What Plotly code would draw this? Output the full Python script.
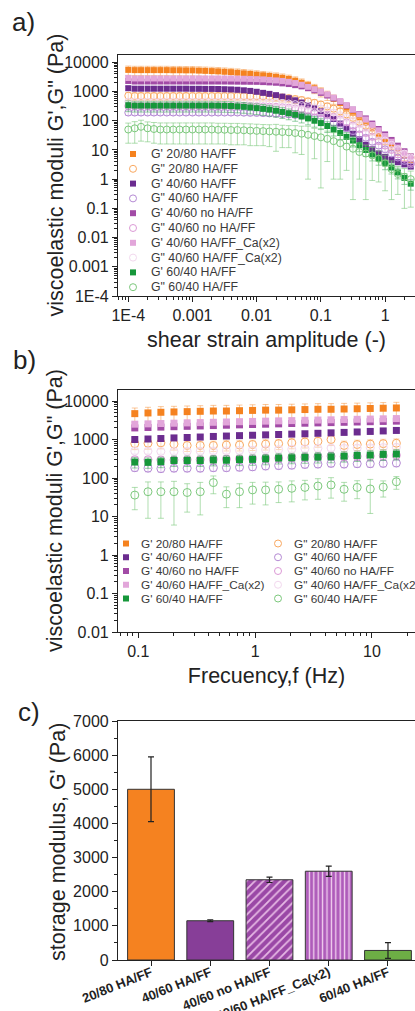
import plotly.graph_objects as go

W, H = 415, 1011
FONT = "Liberation Sans, Arial, sans-serif"
INK = "#222222"

# ---------------- panel a: amplitude sweep ----------------
strain = [1.0e-4, 1.26e-4, 1.58e-4, 2.0e-4, 2.51e-4, 3.16e-4, 3.98e-4, 5.01e-4, 6.31e-4, 7.94e-4,
          1.0e-3, 1.26e-3, 1.58e-3, 2.0e-3, 2.51e-3, 3.16e-3, 3.98e-3, 5.01e-3, 6.31e-3, 7.94e-3,
          0.01, 0.0126, 0.0158, 0.02, 0.0251, 0.0316, 0.0398, 0.0501, 0.0631, 0.0794,
          0.1, 0.126, 0.158, 0.2, 0.251, 0.316, 0.398, 0.501, 0.631, 0.794,
          1.0, 1.26, 1.58, 2.0, 2.51]

a_Gp_2080 = [5500, 5400, 5400, 5400, 5400, 5400, 5400, 5350, 5350, 5300,
             5300, 5200, 5100, 5000, 4900, 4750, 4600, 4400, 4200, 4000,
             3800, 3600, 3400, 3200, 2950, 2700, 2350, 2000, 1650, 1300,
             1000, 760, 560, 400, 280, 190, 130, 85, 55, 36,
             23, 15, 10, 6.5, 4.5]
a_Gpp_2080 = [720, 700, 700, 700, 700, 700, 700, 700, 700, 700,
              700, 700, 700, 700, 700, 700, 700, 700, 695, 690,
              690, 680, 670, 650, 620, 590, 550, 510, 460, 410,
              360, 310, 260, 210, 165, 125, 92, 66, 46, 32,
              22, 15, 10.5, 7.5, 5.5]
a_Gp_4060 = [1300, 1250, 1250, 1250, 1250, 1250, 1250, 1250, 1250, 1250,
             1240, 1240, 1230, 1230, 1220, 1200, 1180, 1150, 1100, 1050,
             980, 900, 830, 750, 670, 590, 500, 420, 340, 270,
             210, 160, 115, 80, 55, 36, 23, 15, 10.5, 7.6,
             5.8, 4.6, 3.8, 3.2, 2.7]
a_Gpp_4060 = [190, 190, 190, 190, 190, 190, 190, 190, 190, 190,
              190, 190, 190, 190, 190, 190, 190, 190, 188, 186,
              185, 182, 178, 174, 170, 165, 158, 150, 140, 128,
              115, 100, 85, 70, 56, 44, 34, 26, 19, 14,
              10.5, 7.5, 5.5, 4.2, 3.2]
a_Gp_noHA = [2300, 2200, 2200, 2200, 2200, 2200, 2200, 2200, 2200, 2200,
             2200, 2200, 2200, 2200, 2200, 2200, 2190, 2180, 2170, 2160,
             2150, 2100, 2050, 2000, 1900, 1800, 1650, 1500, 1300, 1100,
             900, 730, 580, 450, 330, 240, 170, 120, 80, 52,
             34, 22, 14, 9, 6]
a_Gpp_noHA = [320, 320, 320, 320, 320, 320, 320, 320, 320, 320,
              320, 320, 320, 320, 320, 320, 320, 320, 320, 318,
              315, 310, 305, 300, 290, 280, 265, 250, 230, 210,
              185, 160, 135, 110, 88, 68, 52, 38, 28, 20,
              14, 10, 7, 5, 3.6]
a_Gp_Ca = [2900, 2800, 2800, 2800, 2800, 2800, 2800, 2800, 2800, 2800,
           2800, 2800, 2800, 2800, 2800, 2800, 2780, 2760, 2740, 2700,
           2650, 2600, 2500, 2400, 2300, 2150, 1950, 1700, 1450, 1200,
           1000, 800, 620, 470, 340, 240, 165, 110, 72, 47,
           30, 19, 12, 8, 5.5]
a_Gpp_Ca = [450, 450, 450, 450, 450, 450, 450, 450, 450, 450,
            450, 450, 450, 450, 450, 450, 450, 450, 450, 448,
            445, 440, 430, 420, 405, 390, 370, 345, 320, 290,
            260, 225, 190, 155, 125, 98, 75, 56, 41, 30,
            21, 15, 10.5, 7.5, 5.5]
a_Gp_6040 = [340, 330, 330, 330, 330, 330, 330, 330, 330, 330,
             330, 330, 330, 330, 328, 325, 320, 310, 300, 285,
             270, 255, 240, 220, 200, 180, 160, 140, 120, 100,
             83, 66, 50, 38, 28, 21, 14.5, 10, 7, 5,
             3.5, 2.5, 1.7, 1.1, 0.7]
a_Gpp_6040 = [50, 55, 62, 55, 52, 50, 50, 50, 50, 50,
              50, 50, 50, 50, 49, 49, 48, 48, 47, 46,
              45, 44, 43, 42, 41, 40, 38, 36, 33, 30,
              27, 24, 20, 17, 13, 11, 8.5, 7.5, 6.5, 5,
              3.5, 2.2, 1.5, 1.2, 1.0]
a_err_Gpp_6040 = [33, 38, 42, 36, 35, 34, 34, 34, 34, 34,
                  34, 34, 34, 34, 33, 33, 33, 33, 32, 32,
                  31, 30, 30, 33, 29, 28, 30, 29, 32, 25,
                  26.5, 20, 19, 16, 11, 10.8, 7.5, 7.3, 5.6, 4.2,
                  3.1, 2.0, 1.2, 1.1, 0.89]

# ---------------- panel b: frequency sweep ----------------
freq = [0.0933, 0.121, 0.156, 0.202, 0.262, 0.339, 0.439, 0.568, 0.735, 0.951,
        1.23, 1.59, 2.06, 2.67, 3.45, 4.47, 5.78, 7.48, 9.68, 12.5, 16.2]
b_Gp_2080 = [4700, 4900, 5100, 5200, 5300, 5400, 5500, 5500, 5600, 5700,
             5800, 5800, 5900, 6000, 6100, 6100, 6200, 6300, 6400, 6500, 6600]
b_Gpp_2080 = [780, 800, 820, 760, 700, 700, 700, 720, 720, 740,
              760, 780, 820, 860, 900, 1000, 700, 740, 760, 780, 800]
b_Gp_4060 = [1000, 1030, 1060, 1100, 1130, 1160, 1200, 1230, 1260, 1290,
             1320, 1350, 1380, 1410, 1450, 1490, 1530, 1570, 1620, 1670, 1720]
b_Gpp_4060 = [185, 180, 175, 180, 180, 180, 185, 185, 190, 195,
              205, 210, 215, 225, 230, 240, 230, 235, 235, 240, 245]
b_Gp_noHA = [2000, 2050, 2100, 2150, 2200, 2250, 2300, 2350, 2400, 2450,
             2500, 2550, 2600, 2650, 2700, 2750, 2800, 2850, 2900, 2950, 3000]
b_Gpp_noHA = [300, 300, 295, 295, 300, 300, 305, 310, 315, 320,
              325, 330, 340, 350, 360, 370, 360, 365, 370, 380, 390]
b_Gp_Ca = [2500, 2550, 2600, 2650, 2700, 2750, 2800, 2850, 2900, 2950,
           3000, 3050, 3100, 3150, 3200, 3250, 3300, 3350, 3400, 3450, 3500]
b_Gpp_Ca = [500, 500, 490, 490, 495, 500, 505, 510, 520, 530,
            540, 550, 560, 575, 590, 600, 590, 600, 610, 620, 630]
b_Gp_6040 = [260, 255, 265, 285, 285, 285, 295, 290, 300, 305,
             315, 330, 335, 345, 350, 355, 370, 385, 395, 410, 420]
b_Gpp_6040 = [36, 44, 44, 44, 42, 44, 76, 38, 44, 49,
              49, 51, 54, 57, 62, 66, 51, 57, 52, 58, 80]
b_err_Gpp_6040 = [21, 35, 35, 38, 29, 33, 37, 21, 27, 28,
                  29, 28, 30, 30, 34, 36, 26, 28, 40, 26, 29]

# ---------------- panel c: storage modulus bars ----------------
groups = ["20/80 HA/FF", "40/60 HA/FF", "40/60 no HA/FF", "40/60 HA/FF_Ca(x2)", "60/40 HA/FF"]
c_Gp = [5000, 1150, 2350, 2600, 280]
c_err = [950, 25, 80, 150, 230]

# tick labels
a_xticks = [1e-4, 1e-3, 1e-2, 1e-1, 1]
a_xtext = ["1E-4", "0.001", "0.01", "0.1", "1"]
a_yticks = [1e-4, 1e-3, 1e-2, 1e-1, 1, 10, 100, 1000, 10000]
a_ytext = ["1E-4", "0.001", "0.01", "0.1", "1", "10", "100", "1000", "10000"]
b_xticks = [0.1, 1, 10]
b_xtext = ["0.1", "1", "10"]
b_yticks = [0.01, 0.1, 1, 10, 100, 1000, 10000]
b_ytext = ["0.01", "0.1", "1", "10", "100", "1000", "10000"]

# ---------------- styling ----------------
C_OR, C_ORo = "#F5821F", "#F9A860"
C_PU, C_PUo = "#6B2C8F", "#B58AD4"
C_MP, C_MPo = "#A24BA6", "#DC9AD6"
C_LP, C_LPo = "#E2A6DA", "#F2D8EE"
C_GR, C_GRo = "#16973A", "#7CC87C"


def rgba(hexc, a):
    h = hexc.lstrip("#")
    return "rgba(%d,%d,%d,%.2f)" % (int(h[0:2], 16), int(h[2:4], 16), int(h[4:6], 16), a)


names = ["G' 20/80 HA/FF", 'G" 20/80 HA/FF', "G' 40/60 HA/FF", 'G" 40/60 HA/FF',
         "G' 40/60 no HA/FF", 'G" 40/60 no HA/FF', "G' 40/60 HA/FF_Ca(x2)", 'G" 40/60 HA/FF_Ca(x2)',
         "G' 60/40 HA/FF", 'G" 60/40 HA/FF']
colors = [C_OR, C_ORo, C_PU, C_PUo, C_MP, C_MPo, C_LP, C_LPo, C_GR, C_GRo]
filled = [True, False] * 5
pct = [35, 30, 15, 20, 15, 20, 10, 15, 40, None]
pct_b = [40, 30, 12, 20, 12, 20, 10, 15, 30, None]

a_vals = [a_Gp_2080, a_Gpp_2080, a_Gp_4060, a_Gpp_4060, a_Gp_noHA, a_Gpp_noHA,
          a_Gp_Ca, a_Gpp_Ca, a_Gp_6040, a_Gpp_6040]
b_vals = [b_Gp_2080, b_Gpp_2080, b_Gp_4060, b_Gpp_4060, b_Gp_noHA, b_Gpp_noHA,
          b_Gp_Ca, b_Gpp_Ca, b_Gp_6040, b_Gpp_6040]

fig = go.Figure()


def marker(i, size_sq, size_c):
    if filled[i]:
        return dict(symbol="square", size=size_sq, color=colors[i], line=dict(width=0))
    return dict(symbol="circle-open", size=size_c, color=colors[i], line=dict(width=1, color=colors[i]))


for i in range(10):
    if pct[i] is None:
        err = dict(type="data", array=a_err_Gpp_6040, color=rgba(colors[i], 0.6), thickness=1, width=3)
    else:
        err = dict(type="percent", value=pct[i], color=rgba(colors[i], 0.45), thickness=1, width=3)
    fig.add_trace(go.Scatter(x=strain, y=a_vals[i], mode="markers", name=names[i],
                             marker=marker(i, 6, 7), error_y=err, showlegend=False,
                             xaxis="x", yaxis="y"))

for i in range(10):
    if pct_b[i] is None:
        err = dict(type="data", array=b_err_Gpp_6040, color=rgba(colors[i], 0.6), thickness=1, width=3)
    else:
        err = dict(type="percent", value=pct_b[i], color=rgba(colors[i], 0.45), thickness=1, width=3)
    fig.add_trace(go.Scatter(x=freq, y=b_vals[i], mode="markers", name=names[i],
                             marker=marker(i, 7, 8), error_y=err, showlegend=False,
                             xaxis="x2", yaxis="y2"))

# one bar trace per group so each can carry its own fill / hatch
bar_colors = ["#F58220", "#873E98", "#9A48A6", "#AE5CBA", "#6DAE45"]
stripe_colors = [None, None, "#E6B8E4", "#F2D2F0", None]
hatch = ["", "", "/", "|", ""]
hatch_size = [6, 6, 6, 4.4, 6]
for k in range(len(groups)):
    mk = dict(color=bar_colors[k], line=dict(color="#333333", width=1))
    if hatch[k]:
        mk["pattern"] = dict(shape=hatch[k], fillmode="replace", bgcolor=bar_colors[k],
                             fgcolor=stripe_colors[k], fgopacity=1, size=hatch_size[k], solidity=0.3)
    fig.add_trace(go.Bar(
        x=[groups[k]], y=[c_Gp[k]], width=0.79, showlegend=False, xaxis="x3", yaxis="y3",
        name=groups[k], marker=mk,
        error_y=dict(type="data", array=[c_err[k]], color=INK, thickness=1.2, width=3)))


def fx(p):
    return p / W


def fy(p):
    return 1 - p / H


def log_minor(lo, hi):
    return [m * 10 ** e for e in range(lo, hi) for m in range(2, 10)]


axis_common = dict(showline=True, linecolor=INK, linewidth=1.2, mirror=True, ticks="outside",
                   ticklen=5, tickwidth=1, tickcolor=INK, showgrid=False, zeroline=False,
                   automargin=False, tickfont=dict(family=FONT, size=16, color=INK))
title_font = dict(family=FONT, size=21.5, color=INK)
minor_common = dict(ticks="outside", ticklen=3, tickwidth=1, tickcolor=INK, showgrid=False)

fig.update_layout(
    template="none", barmode="overlay",
    width=W, height=H, margin=dict(l=0, r=0, t=0, b=0, autoexpand=False),
    paper_bgcolor="white", plot_bgcolor="white", font=dict(family=FONT, color=INK),
    xaxis=dict(axis_common, type="log", domain=[fx(118), 1], anchor="y",
               range=[-4.16, 0.466], tickmode="array", tickvals=a_xticks, ticktext=a_xtext,
               minor=dict(minor_common, tickvals=log_minor(-5, 1)),
               title=dict(text="shear strain amplitude (-)", font=title_font, standoff=8)),
    yaxis=dict(axis_common, type="log", domain=[fy(296), fy(55)], anchor="x",
               range=[-4, 4.25], tickmode="array", tickvals=a_yticks, ticktext=a_ytext,
               minor=dict(minor_common, tickvals=log_minor(-4, 5))),
    xaxis2=dict(axis_common, type="log", domain=[fx(118), 1], anchor="y2",
                range=[-1.174, 1.369], tickmode="array", tickvals=b_xticks, ticktext=b_xtext,
                minor=dict(minor_common, tickvals=log_minor(-2, 2)),
                title=dict(text="Frecuency,f (Hz)", font=title_font, standoff=8)),
    yaxis2=dict(axis_common, type="log", domain=[fy(632), fy(390)], anchor="x2",
                range=[-2, 4.286], tickmode="array", tickvals=b_yticks, ticktext=b_ytext,
                minor=dict(minor_common, tickvals=log_minor(-2, 5))),
    xaxis3=dict(axis_common, type="category", domain=[fx(118), 1], anchor="y3",
                categoryorder="array", categoryarray=groups,
                range=[-0.557, 4.456], tickangle=-22, ticklabelstandoff=-6,
                tickfont=dict(family=FONT, size=13, color=INK, weight="bold")),
    yaxis3=dict(axis_common, domain=[fy(960), fy(721)], anchor="x3", range=[0, 7000],
                dtick=1000, minor=dict(minor_common, dtick=500)),
)

# y-axis titles (placed close to the tick labels as in the original)
for txt, xp, yp in [("viscoelastic moduli G',G\" (Pa)", 55, 175.5),
                    ("viscoelastic moduli G',G\" (Pa)", 55, 511),
                    ("storage modulus, G' (Pa)", 58, 842)]:
    fig.add_annotation(text=txt, x=fx(xp), y=fy(yp), xref="paper", yref="paper", showarrow=False,
                       textangle=-90, xanchor="center", yanchor="middle", font=title_font)

# panel labels
for lab, xp, yp in [("a)", 23, 22), ("b)", 24, 360), ("c)", 29, 712)]:
    fig.add_annotation(text=lab, x=fx(xp), y=fy(yp), xref="paper", yref="paper", showarrow=False,
                       xanchor="center", yanchor="middle", font=dict(family=FONT, size=26, color=INK))


# compact legends (marker shape + text), as in the original figure
def legend_item(name, i, xm, xt, yp, fsize, sq, cs):
    if filled[i]:
        fig.add_shape(type="rect", xref="paper", yref="paper", xsizemode="pixel", ysizemode="pixel",
                      xanchor=fx(xm), yanchor=fy(yp), x0=-sq / 2, x1=sq / 2, y0=-sq / 2, y1=sq / 2,
                      fillcolor=colors[i], line=dict(width=0))
    else:
        fig.add_shape(type="circle", xref="paper", yref="paper", xsizemode="pixel", ysizemode="pixel",
                      xanchor=fx(xm), yanchor=fy(yp), x0=-cs / 2, x1=cs / 2, y0=-cs / 2, y1=cs / 2,
                      fillcolor="rgba(0,0,0,0)", line=dict(width=1, color=colors[i]))
    fig.add_annotation(text=name, x=fx(xt), y=fy(yp), xref="paper", yref="paper", showarrow=False,
                       xanchor="left", yanchor="middle", xshift=-2,
                       font=dict(family=FONT, size=fsize, color="#3a3a3a"))


for i in range(10):
    legend_item(names[i], i, 133, 151, 154 + 14.8 * i, 12.3, 6, 7)

for i in range(10):
    row = i // 2
    if i % 2 == 0:
        legend_item(names[i], i, 126, 141, 543.5 + 13.75 * row, 11.8, 6, 7)
    else:
        legend_item(names[i], i, 278, 294, 543.5 + 13.75 * row, 11.8, 6, 7)

fig.write_html("out.html", config={"displayModeBar": False},
               post_script="document.body.style.margin='0';document.body.style.overflow='hidden';")
